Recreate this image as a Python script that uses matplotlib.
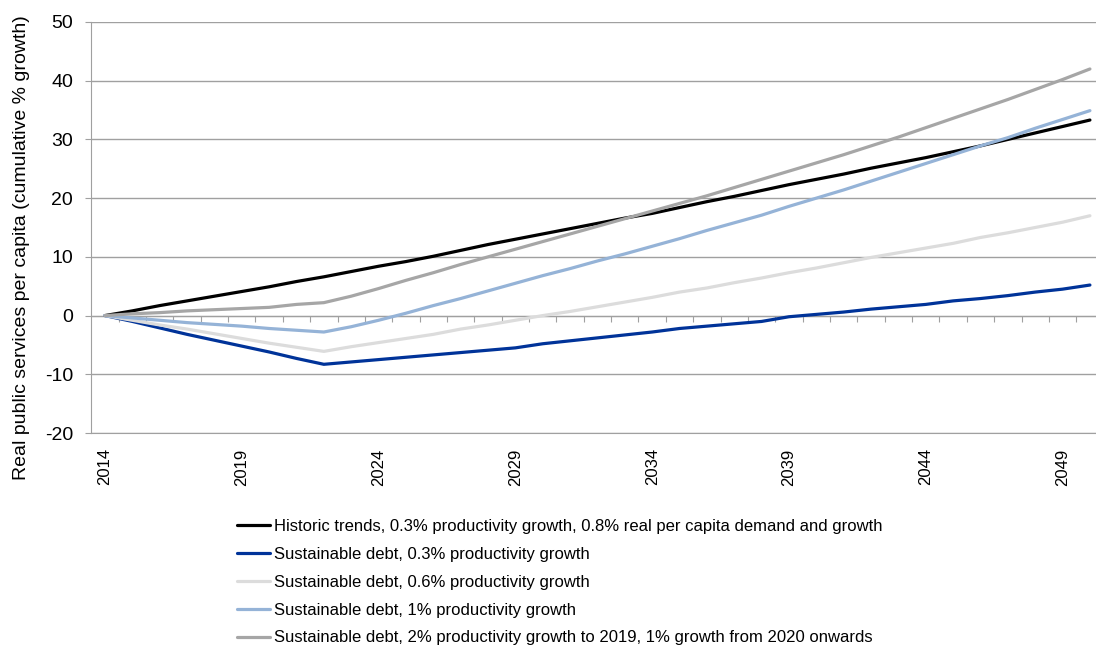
import matplotlib
matplotlib.use('Agg')
import matplotlib.pyplot as plt
import numpy as np

plt.rcParams['font.family'] = ['Liberation Sans', 'DejaVu Sans']
plt.rcParams['axes.unicode_minus'] = False

years = list(range(2014, 2051))

historic = [0, 0.8, 1.7, 2.5, 3.3, 4.1, 4.9, 5.8, 6.6, 7.5, 8.4, 9.2, 10.1, 11.1, 12.1,
            13.0, 13.9, 14.8, 15.7, 16.6, 17.4, 18.4, 19.4, 20.3, 21.3, 22.3, 23.2, 24.1,
            25.1, 26.0, 26.9, 27.9, 28.9, 30.0, 31.1, 32.2, 33.3]
debt_03 = [0, -1.0, -2.1, -3.2, -4.2, -5.2, -6.2, -7.3, -8.3, -7.9, -7.5, -7.1, -6.7,
           -6.3, -5.9, -5.5, -4.8, -4.3, -3.8, -3.3, -2.8, -2.2, -1.8, -1.4, -1.0, -0.2,
           0.2, 0.6, 1.1, 1.5, 1.9, 2.5, 2.9, 3.4, 4.0, 4.5, 5.2]
debt_06 = [0, -0.8, -1.6, -2.3, -3.1, -3.9, -4.7, -5.4, -6.1, -5.3, -4.6, -3.9, -3.2,
           -2.3, -1.6, -0.8, 0.0, 0.7, 1.5, 2.3, 3.1, 4.0, 4.7, 5.6, 6.4, 7.3, 8.1, 9.0,
           9.9, 10.7, 11.5, 12.3, 13.3, 14.1, 15.0, 15.9, 17.0]
debt_1 = [0, -0.4, -0.8, -1.2, -1.5, -1.8, -2.2, -2.5, -2.8, -1.9, -0.8, 0.4, 1.7, 2.9,
          4.2, 5.5, 6.8, 8.0, 9.3, 10.5, 11.8, 13.1, 14.5, 15.8, 17.1, 18.6, 20.0, 21.4,
          22.9, 24.4, 25.9, 27.4, 28.9, 30.3, 31.9, 33.4, 34.9]
debt_2 = [0, 0.3, 0.5, 0.8, 1.0, 1.2, 1.4, 1.9, 2.2, 3.3, 4.6, 6.0, 7.3, 8.7, 10.0,
          11.3, 12.6, 13.9, 15.2, 16.5, 17.8, 19.1, 20.4, 21.8, 23.2, 24.6, 26.0, 27.4,
          28.9, 30.4, 32.0, 33.6, 35.2, 36.8, 38.5, 40.2, 42.0]

labels = [
    'Historic trends, 0.3% productivity growth, 0.8% real per capita demand and growth',
    'Sustainable debt, 0.3% productivity growth',
    'Sustainable debt, 0.6% productivity growth',
    'Sustainable debt, 1% productivity growth',
    'Sustainable debt, 2% productivity growth to 2019, 1% growth from 2020 onwards',
]
colors = ['#000000', '#003399', '#DCDCDC', '#95B3D7', '#A6A6A6']
series = [historic, debt_03, debt_06, debt_1, debt_2]

fig = plt.figure(figsize=(10.96, 6.5), dpi=100)
ax = fig.add_axes([91.3 / 1096, 217 / 650, 1012.3 / 1096, 411 / 650])

lines = []
for vals, c, lab in zip(series, colors, labels):
    ln, = ax.plot(years, vals, color=c, lw=2.3, label=lab, solid_capstyle='round')
    lines.append(ln)

grid_col = '#A0A0A0'
ax.set_ylim(-20, 50)
ax.set_xlim(2013.5, 2050.5)
ax.set_yticks(range(-20, 51, 10))
ax.yaxis.grid(True, color=grid_col, lw=1)
ax.set_axisbelow(True)
for s in ['top', 'right']:
    ax.spines[s].set_visible(False)
ax.spines['left'].set_color(grid_col)
ax.spines['bottom'].set_color(grid_col)
ax.tick_params(axis='y', length=4, color=grid_col, labelsize=14, pad=9)

ax.set_xticks(years[::5])
ax.tick_params(axis='x', length=0, labelsize=12, pad=11, labelrotation=90)

# category tick marks on the zero line
zero_axis = ax.secondary_xaxis(20 / 70)
zero_axis.spines['bottom'].set_color(grid_col)
zero_axis.set_xticks(np.arange(2014.5, 2050.5, 1))
zero_axis.tick_params(axis='x', length=4, color=grid_col, labelbottom=False)

ax.set_ylabel('Real public services per capita (cumulative % growth)', fontsize=14)
ax.yaxis.set_label_coords((30 - 91.3) / 1012.3, (433 - 247.5) / 411)

fig.legend(handles=lines, loc='upper left', bbox_to_anchor=(237 / 1096, 1 - 519 / 650),
           frameon=False, fontsize=12, handlelength=2.0, handletextpad=0.2,
           labelspacing=0.77, borderaxespad=0, borderpad=0)

fig.savefig('out.png', dpi=100)
